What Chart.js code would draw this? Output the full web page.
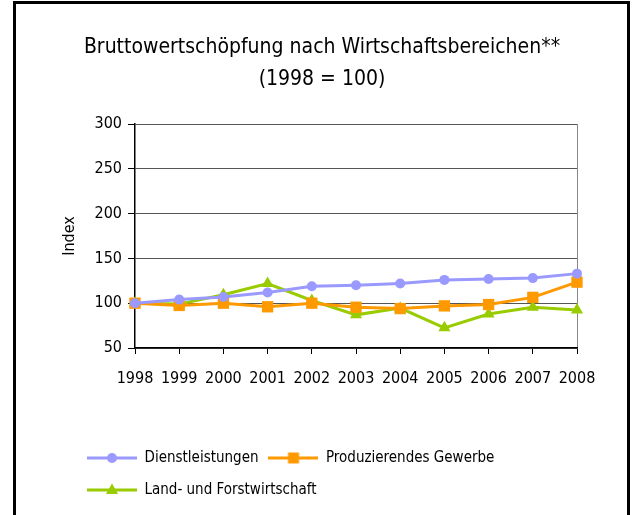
<!DOCTYPE html>
<html>
<head>
<meta charset="utf-8">
<script src="https://cdn.jsdelivr.net/npm/chart.js@4/dist/chart.umd.min.js"></script>
<style>
  html, body { margin: 0; padding: 0; background: #fff; overflow: hidden; }
  #wrap { position: relative; width: 632px; height: 515px; }
  #frame { position: absolute; left: 13px; top: 1px; width: 617px; height: 540px;
           border: 3px solid #000; box-sizing: border-box; pointer-events: none; }
  canvas { position: absolute; left: 0; top: 0; }
</style>
</head>
<body>
<div id="wrap">
  <canvas id="chart" width="632" height="515"></canvas>
  <div id="frame"></div>
</div>
<script>
const years = ['1998','1999','2000','2001','2002','2003','2004','2005','2006','2007','2008'];
const dienstleistungen = [100, 104, 107, 112, 119, 120, 122, 126, 127, 128, 133];
const produzierendes = [100, 97.5, 100, 96, 100, 95.5, 94, 97, 98.5, 106.5, 123.5];
const landForst = [100, 99, 109.5, 122, 103, 87, 94.5, 72.5, 88, 95.5, 92.5];
const yTicks = [50, 100, 150, 200, 250, 300];

const FONT = "'Liberation Sans Narrow', 'DejaVu Sans Condensed', 'Liberation Sans', sans-serif";

// line + marker picture used in the legend
function legendIcon(color, style) {
  const c = document.createElement('canvas');
  c.width = 50; c.height = 16;
  const g = c.getContext('2d');
  g.strokeStyle = color; g.fillStyle = color; g.lineWidth = 3;
  g.beginPath(); g.moveTo(0, 8); g.lineTo(50, 8); g.stroke();
  g.beginPath();
  if (style === 'circle') g.arc(25, 8, 5, 0, Math.PI * 2);
  if (style === 'rect') g.rect(19.5, 2.5, 11, 11);
  if (style === 'triangle') { g.moveTo(25, 1.5); g.lineTo(31, 12); g.lineTo(19, 12); g.closePath(); }
  g.fill();
  return c;
}

const series = [
  { label: 'Dienstleistungen', data: dienstleistungen, color: '#9999FF', style: 'circle', r: 5 },
  { label: 'Produzierendes Gewerbe', data: produzierendes, color: '#FF9900', style: 'rect', r: 8 },
  { label: 'Land- und Forstwirtschaft', data: landForst, color: '#99CC00', style: 'triangle', r: 7 }
];
const icons = series.map(s => legendIcon(s.color, s.style));

const layoutFix = {
  id: 'layoutFix',
  afterLayout(chart) {
    chart.legend.left = 77;
    chart.titleBlock.left = 12;
    chart.titleBlock.right = 632;
  },
  afterDraw(chart) {
    const ctx = chart.ctx;
    (chart.legend.legendHitBoxes || []).forEach((hb, i) => {
      ctx.drawImage(icons[i], hb.left, hb.top + hb.height / 2 - 8);
    });
  }
};

new Chart(document.getElementById('chart'), {
  type: 'line',
  data: {
    labels: years,
    datasets: series.map(s => ({
      label: s.label,
      data: s.data,
      borderColor: s.color,
      backgroundColor: s.color,
      borderWidth: 3,
      pointStyle: s.style,
      pointRadius: s.r,
      pointHoverRadius: s.r,
      pointBackgroundColor: s.color,
      pointBorderColor: s.color,
      pointBorderWidth: 0,
      tension: 0
    }))
  },
  options: {
    responsive: false,
    animation: false,
    devicePixelRatio: 1,
    layout: { padding: { left: 0, right: 55, top: 0, bottom: 4 } },
    plugins: {
      title: {
        display: true,
        text: ['Bruttowertschöpfung nach Wirtschaftsbereichen**', '(1998 = 100)'],
        color: '#000',
        font: { family: FONT, size: 21, weight: 'normal', lineHeight: 1.5 },
        padding: { top: 32, bottom: 29 }
      },
      legend: {
        position: 'bottom',
        align: 'start',
        labels: {
          color: '#000',
          font: { family: FONT, size: 15 },
          boxWidth: 50,
          boxHeight: 22,
          padding: 10,
          generateLabels(chart) {
            return series.map((s, i) => ({
              text: s.label,
              fillStyle: 'rgba(0,0,0,0)',
              strokeStyle: 'rgba(0,0,0,0)',
              lineWidth: 0,
              datasetIndex: i,
              fontColor: '#000'
            }));
          }
        }
      },
      tooltip: { enabled: false }
    },
    scales: {
      x: {
        offset: false,
        afterFit(scale) { scale.height = 89; },
        grid: {
          color: ctx => ctx.index === years.length - 1 ? '#888' : 'rgba(0,0,0,0)',
          tickColor: '#000',
          tickLength: 6
        },
        border: { color: '#000', width: 1.5 },
        ticks: { color: '#000', font: { family: FONT, size: 16 }, padding: 15, maxRotation: 0 }
      },
      y: {
        min: 50,
        max: 300,
        afterFit(scale) { scale.width = 135; },
        afterBuildTicks(scale) { scale.ticks = yTicks.map(v => ({ value: v })); },
        grid: { color: '#555', tickColor: '#000', tickLength: 7 },
        border: { color: '#000', width: 1.5 },
        ticks: { color: '#000', font: { family: FONT, size: 16 }, padding: 6 },
        title: {
          display: true,
          text: 'Index',
          color: '#000',
          font: { family: FONT, size: 16 },
          padding: { top: 60, bottom: 0 }
        }
      }
    }
  },
  plugins: [layoutFix]
});
</script>
</body>
</html>
